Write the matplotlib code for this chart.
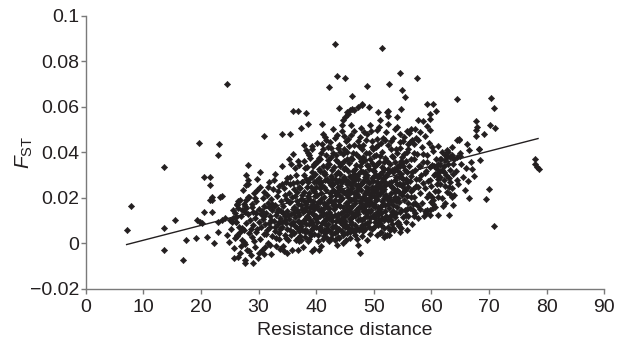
import matplotlib
matplotlib.use('Agg')
import matplotlib.pyplot as plt
import numpy as np

plt.rcParams['font.family'] = ['Liberation Sans', 'DejaVu Sans']
plt.rcParams['mathtext.fontset'] = 'custom'
plt.rcParams['mathtext.rm'] = 'Liberation Sans'
plt.rcParams['mathtext.it'] = 'Liberation Sans:italic'

# scattered points (resistance distance, F_ST)
left_pts = [(7.1, 0.0057), (7.9, 0.0163), (13.6, 0.0337), (13.6, 0.0065), (13.6, -0.0029),
            (15.5, 0.0101), (16.8, -0.0072), (17.4, 0.0013), (19.1, 0.0025), (19.6, 0.0439),
            (19.4, 0.0101), (19.8, 0.0095), (20.1, 0.0089), (20.5, 0.029), (21.6, 0.029),
            (21.6, 0.0254), (21.6, 0.0189), (22.0, 0.0201), (21.9, 0.0135), (20.5, 0.0135),
            (21.1, 0.0029), (22.3, -0.0001), (23.1, 0.0434), (23.0, 0.0387), (23.0, 0.0095),
            (23.0, 0.0047), (24.5, 0.0699), (23.3, 0.0204), (23.7, 0.0208), (21.9, 0.0189),
            (23.6, 0.0101), (24.2, 0.0109), (25.1, 0.0101), (25.4, 0.0094), (26.1, 0.0094),
            (24.6, 0.0035), (24.8, 0.0006), (25.9, 0.0021), (26.2, 0.0035), (26.8, 0.005),
            (27.4, 0.0057), (27.1, 0.0013), (27.7, -0.0004), (25.7, -0.0063), (26.5, -0.006),
            (27.7, -0.0075), (26.2, 0.0174), (26.8, 0.0189), (27.4, 0.0174), (27.9, 0.0189),
            (26.5, 0.0153), (27.1, 0.0145), (27.9, 0.0153), (27.7, 0.0138), (28.2, 0.0204),
            (28.1, 0.0262), (27.9, 0.0299), (28.2, 0.0343), (28.1, 0.0277), (25.9, 0.0131),
            (26.1, 0.0116), (29.1, -0.0088), (27.7, -0.0086), (30.9, -0.0047), (28.4, -0.0035),
            (34.4, -0.0035), (39.3, -0.0035), (36.9, -0.003)]

upper_pts = [(43.2, 0.0875), (43.6, 0.0735), (45.0, 0.0728), (42.2, 0.0687), (46.2, 0.0649),
             (43.9, 0.0596), (35.9, 0.0583), (36.9, 0.058), (38.3, 0.0573), (41.0, 0.0526),
             (37.4, 0.0508), (38.5, 0.0524), (30.9, 0.0472), (34.0, 0.0482), (35.5, 0.0478),
             (45.0, 0.0555), (45.6, 0.057), (45.9, 0.0585), (44.7, 0.0541), (51.4, 0.0858),
             (48.8, 0.069), (52.7, 0.0699), (54.5, 0.0749), (57.5, 0.0724), (54.9, 0.0673),
             (55.4, 0.0643), (47.9, 0.0614), (49.1, 0.0599), (52.3, 0.0577), (54.8, 0.0592),
             (59.3, 0.0611), (60.2, 0.0614), (60.8, 0.058), (59.8, 0.0567), (59.8, 0.0548),
             (64.5, 0.0632), (70.4, 0.0637), (70.8, 0.0595), (54.1, 0.0555), (52.4, 0.058),
             (52.4, 0.0558), (57.6, 0.0541), (58.5, 0.0538), (59.2, 0.0516), (59.8, 0.0497),
             (67.7, 0.0538), (67.9, 0.0511), (67.8, 0.0497), (67.7, 0.047), (69.2, 0.0482),
             (70.1, 0.0519), (71.1, 0.0507), (64.5, 0.0453), (64.8, 0.0456), (66.1, 0.0435),
             (68.3, 0.0415), (56.5, 0.0504), (57.2, 0.0501), (58.0, 0.0489), (56.6, 0.0453),
             (56.0, 0.0438), (45.3, 0.0577), (46.2, 0.0588), (46.5, 0.0585), (47.3, 0.0599),
             (47.9, 0.0607), (50.8, 0.0577), (51.1, 0.0541)]

right_pts = [(77.9, 0.0372), (78.0, 0.0347), (78.3, 0.0335), (78.6, 0.0328), (70.8, 0.0076),
             (70.0, 0.024), (69.4, 0.0193), (66.6, 0.0199), (68.5, 0.0365), (68.3, 0.0416),
             (67.3, 0.0296), (67.0, 0.0324), (64.5, 0.0277), (63.2, 0.0269), (63.0, 0.0247),
             (62.7, 0.0225), (63.5, 0.0204), (63.9, 0.0211), (62.0, 0.0163), (63.0, 0.0123),
             (61.2, 0.0123), (63.8, 0.0167), (60.2, 0.0174), (60.1, 0.0204), (60.3, 0.0192),
             (58.0, 0.0152), (58.9, 0.0141), (59.8, 0.0145), (56.9, 0.0119), (55.7, 0.0057),
             (54.6, 0.005), (53.4, 0.0065), (54.0, 0.0087), (52.3, 0.0035), (51.7, 0.0028),
             (65.0, 0.0382), (63.5, 0.0387), (62.4, 0.0387), (61.5, 0.0372), (61.2, 0.035),
             (60.9, 0.0328), (61.8, 0.0321), (60.6, 0.0306), (61.5, 0.0262), (62.1, 0.0277),
             (61.2, 0.0284), (64.7, 0.0453), (63.5, 0.0423), (62.9, 0.0401), (62.7, 0.0379),
             (64.4, 0.0379), (63.2, 0.0379), (62.4, 0.0365), (63.8, 0.035), (61.1, 0.0204),
             (59.2, 0.0145), (54.3, 0.0084), (52.8, 0.006), (52.0, 0.0035), (51.1, 0.0043),
             (48.8, 0.0013), (47.3, -0.0009), (47.6, -0.0045), (43.6, -0.0009), (43.3, 0.0013),
             (44.7, 0.0043), (45.0, 0.0072)]

# dense cloud, read band by band
core_25_34 = [(25.2, 0.0062), (25.5, 0.0148), (25.8, -0.0021), (26.0, 0.0095), (26.3, 0.0031),
              (26.4, 0.0187), (26.7, -0.0045), (26.9, 0.0118), (27.1, 0.0066), (27.3, 0.0233),
              (27.5, 0.0004), (27.6, 0.0162), (27.8, 0.0087), (28.0, -0.0031), (28.1, 0.0129),
              (28.3, 0.0045), (28.4, 0.0201), (25.6, 0.0112), (26.6, 0.0072), (27.0, -0.0012),
              (27.9, 0.0254), (26.2, 0.0168),
              (28.5, 0.0101), (28.6, -0.0052), (28.8, 0.0174), (28.9, 0.0026), (29.0, 0.0138),
              (29.1, 0.0078), (29.2, 0.0221), (29.3, -0.0015), (29.4, 0.0112), (29.5, 0.0049),
              (29.6, 0.0186), (29.7, 0.0281), (29.8, 0.0063), (29.9, -0.0064), (30.0, 0.0152),
              (30.1, 0.0095), (30.2, 0.0019), (30.3, 0.0245), (30.4, 0.0127), (30.5, 0.0071),
              (30.6, -0.0028), (30.7, 0.0198), (30.8, 0.0108), (30.9, 0.0042), (31.0, 0.0163),
              (28.7, 0.0061), (29.2, 0.0009), (29.8, 0.0235), (30.3, 0.0311), (30.6, 0.0141),
              (28.9, 0.0158), (29.5, 0.0131), (30.9, 0.0225), (30.1, -0.0041), (29.4, 0.0199),
              (31.1, 0.0085), (31.2, -0.0018), (31.3, 0.0134), (31.4, 0.0212), (31.5, 0.0056),
              (31.6, 0.0177), (31.7, 0.0003), (31.8, 0.0268), (31.9, 0.0119), (32.0, 0.0071),
              (32.1, 0.0193), (32.2, -0.0049), (32.3, 0.0145), (32.4, 0.0031), (32.5, 0.0237),
              (32.6, 0.0099), (32.7, 0.0164), (32.8, 0.0052), (32.9, 0.0305), (33.0, 0.0126),
              (33.1, -0.0012), (33.2, 0.0206), (33.3, 0.0083), (33.4, 0.0152), (33.5, 0.0018),
              (33.6, 0.0251), (33.7, 0.0112), (33.8, 0.0063), (33.9, 0.0187), (34.0, 0.0339),
              (31.3, 0.0041), (31.8, 0.0158), (32.2, 0.0104), (32.6, 0.0279), (33.0, 0.0022),
              (33.4, 0.0228), (33.8, -0.0025), (31.6, 0.0247), (32.4, 0.0171), (33.2, 0.0137),
              (33.6, 0.0095), (31.0, 0.0118), (32.9, 0.0069), (33.9, 0.0143), (32.0, -0.0006)]

core_34_43 = [(34.1, 0.0072), (34.2, 0.0165), (34.3, -0.0011), (34.4, 0.0241), (34.5, 0.0118),
              (34.6, 0.0038), (34.7, 0.0196), (34.8, 0.0089), (34.9, 0.0287), (35.0, 0.0141),
              (35.1, 0.0015), (35.2, 0.0222), (35.3, 0.0105), (35.4, 0.0058), (35.5, 0.0179),
              (35.6, 0.0346), (35.7, 0.0127), (35.8, -0.0032), (35.9, 0.0263), (36.0, 0.0091),
              (36.1, 0.0159), (36.2, 0.0044), (36.3, 0.0208), (36.4, 0.0116), (36.5, 0.0301),
              (36.6, 0.0068), (36.7, 0.0185), (36.8, 0.0022), (36.9, 0.0137), (37.0, 0.0249),
              (34.3, 0.0134), (34.7, 0.0271), (35.0, 0.0062), (35.3, 0.0182), (35.6, 0.0084),
              (35.9, 0.0151), (36.2, 0.0238), (36.5, 0.0012), (36.8, 0.0098), (34.5, 0.0212),
              (35.2, 0.0369), (35.8, 0.0205), (36.3, 0.0329), (36.9, 0.0172), (34.9, -0.0041),
              (35.5, 0.0261), (36.0, 0.0394), (36.6, 0.0148), (34.1, 0.0258), (35.7, 0.0035),
              (36.4, 0.0075), (37.0, 0.0053), (34.6, 0.0101), (35.4, 0.0293), (36.7, 0.0271),
              (37.1, 0.0124), (37.2, 0.0031), (37.3, 0.0196), (37.4, 0.0077), (37.5, 0.0268),
              (37.6, 0.0149), (37.7, -0.0018), (37.8, 0.0225), (37.9, 0.0102), (38.0, 0.0332),
              (38.1, 0.0057), (38.2, 0.0174), (38.3, 0.0281), (38.4, 0.0121), (38.5, 0.0009),
              (38.6, 0.0209), (38.7, 0.0086), (38.8, 0.0387), (38.9, 0.0156), (39.0, 0.0043),
              (39.1, 0.0249), (39.2, 0.0133), (39.3, 0.0311), (39.4, 0.0067), (39.5, 0.0187),
              (39.6, -0.0026), (39.7, 0.0228), (39.8, 0.0109), (39.9, 0.0356), (40.0, 0.0162),
              (37.2, 0.0244), (37.5, 0.0058), (37.8, 0.0362), (38.1, 0.0147), (38.4, 0.0245),
              (38.7, 0.0018), (39.0, 0.0192), (39.3, 0.0094), (39.6, 0.0267), (39.9, 0.0071),
              (37.4, 0.0168), (37.9, 0.0298), (38.3, 0.0083), (38.8, 0.0135), (39.2, 0.0427),
              (39.7, 0.0152), (37.1, 0.0095), (37.6, 0.0211), (38.2, 0.0409), (38.6, 0.0113),
              (39.1, 0.0035), (39.5, 0.0339), (39.8, 0.0206), (37.3, 0.0012), (37.7, 0.0139),
              (38.5, 0.0189), (39.4, 0.0171), (38.0, 0.0048), (38.9, 0.0285), (39.9, 0.0118),
              (37.0, 0.0342), (38.4, 0.0336), (39.0, 0.0376), (37.6, 0.0271), (39.7, 0.0042),
              (40.1, 0.0091), (40.2, 0.0214), (40.3, 0.0035), (40.4, 0.0287), (40.5, 0.0146),
              (40.6, 0.0368), (40.7, 0.0072), (40.8, 0.0193), (40.9, -0.0012), (41.0, 0.0251),
              (41.1, 0.0124), (41.2, 0.0412), (41.3, 0.0058), (41.4, 0.0177), (41.5, 0.0305),
              (41.6, 0.0101), (41.7, 0.0232), (41.8, 0.0021), (41.9, 0.0159), (42.0, 0.0349),
              (42.1, 0.0085), (42.2, 0.0271), (42.3, 0.0136), (42.4, 0.0445), (42.5, 0.0047),
              (42.6, 0.0208), (42.7, 0.0114), (42.8, 0.0322), (42.9, 0.0168), (43.0, 0.0069),
              (40.2, 0.0112), (40.5, 0.0263), (40.8, 0.0054), (41.1, 0.0338), (41.4, 0.0096),
              (41.7, 0.0389), (42.0, 0.0183), (42.3, 0.0008), (42.6, 0.0297), (42.9, 0.0232),
              (40.3, 0.0181), (40.7, 0.0319), (41.0, 0.0137), (41.3, 0.0246), (41.6, 0.0465),
              (41.9, 0.0063), (42.2, 0.0154), (42.5, 0.0378), (42.8, 0.0098), (40.0, 0.0275),
              (40.4, 0.0067), (40.9, 0.0222), (41.2, 0.0019), (41.5, 0.0166), (41.8, 0.0284),
              (42.1, 0.0421), (42.4, 0.0129), (42.7, 0.0255), (43.0, 0.0395), (40.6, 0.0119),
              (41.0, 0.0434), (41.4, 0.0315), (41.9, 0.0109), (42.3, 0.0348), (42.8, 0.0039),
              (40.1, 0.0356), (40.8, 0.0152), (41.7, 0.0079), (42.6, 0.0187), (40.4, -0.0028)]

core_43_52 = [(43.1, 0.0152), (43.2, 0.0281), (43.3, 0.0074), (43.4, 0.0213), (43.5, 0.0364),
              (43.6, 0.0118), (43.7, 0.0029), (43.8, 0.0247), (43.9, 0.0169), (44.0, 0.0432),
              (44.1, 0.0091), (44.2, 0.0305), (44.3, 0.0196), (44.4, 0.0054), (44.5, 0.0268),
              (44.6, 0.0137), (44.7, 0.0391), (44.8, 0.0225), (44.9, 0.0081), (45.0, 0.0332),
              (45.1, 0.0176), (45.2, 0.0013), (45.3, 0.0259), (45.4, 0.0122), (45.5, 0.0458),
              (45.6, 0.0201), (45.7, 0.0063), (45.8, 0.0297), (45.9, 0.0155), (46.0, 0.0375),
              (43.1, 0.0336), (43.4, 0.0097), (43.7, 0.0418), (44.0, 0.0184), (44.3, 0.0349),
              (44.6, 0.0035), (44.9, 0.0291), (45.2, 0.0144), (45.5, 0.0233), (45.8, 0.0105),
              (43.3, 0.0192), (43.6, 0.0475), (43.9, 0.0061), (44.2, 0.0239), (44.5, 0.0109),
              (44.8, 0.0412), (45.1, 0.0273), (45.4, 0.0046), (45.7, 0.0354), (46.0, 0.0188),
              (43.2, 0.0045), (43.5, 0.0163), (43.8, 0.0311), (44.1, 0.0252), (44.4, 0.0491),
              (44.7, 0.0158), (45.0, 0.0097), (45.3, 0.0401), (45.6, 0.0318), (45.9, 0.0227),
              (43.0, 0.0261), (43.8, 0.0129), (44.6, 0.0284), (45.4, 0.0212), (44.0, 0.0022),
              (44.9, 0.0362), (45.7, 0.0142), (43.4, 0.0388), (44.3, 0.0131), (45.1, 0.0449),
              (45.8, 0.0024), (43.6, 0.0268), (44.5, 0.0197), (45.3, 0.0071), (46.0, 0.0289),
              (46.1, 0.0095), (46.2, 0.0243), (46.3, 0.0162), (46.4, 0.0397), (46.5, 0.0048),
              (46.6, 0.0276), (46.7, 0.0189), (46.8, 0.0121), (46.9, 0.0344), (47.0, 0.0218),
              (47.1, 0.0067), (47.2, 0.0302), (47.3, 0.0151), (47.4, 0.0427), (47.5, 0.0236),
              (47.6, 0.0108), (47.7, 0.0319), (47.8, 0.0178), (47.9, 0.0031), (48.0, 0.0265),
              (48.1, 0.0141), (48.2, 0.0381), (48.3, 0.0205), (48.4, 0.0086), (48.5, 0.0293),
              (48.6, 0.0167), (48.7, 0.0452), (48.8, 0.0229), (48.9, 0.0118), (49.0, 0.0338),
              (46.2, 0.0368), (46.5, 0.0198), (46.8, 0.0283), (47.1, 0.0135), (47.4, 0.0251),
              (47.7, 0.0073), (48.0, 0.0356), (48.3, 0.0112), (48.6, 0.0248), (48.9, 0.0192),
              (46.3, 0.0061), (46.6, 0.0431), (46.9, 0.0145), (47.2, 0.0208), (47.5, 0.0381),
              (47.8, 0.0262), (48.1, 0.0055), (48.4, 0.0314), (48.7, 0.0171), (49.0, 0.0239),
              (46.1, 0.0227), (46.4, 0.0128), (46.7, 0.0326), (47.0, 0.0017), (47.3, 0.0282),
              (47.6, 0.0186), (47.9, 0.0412), (48.2, 0.0155), (48.5, 0.0222), (48.8, 0.0088),
              (46.0, 0.0474), (46.9, 0.0255), (47.7, 0.0361), (48.6, 0.0396), (47.2, 0.0102),
              (48.1, 0.0274), (48.9, 0.0301), (46.5, 0.0305), (47.4, 0.0161), (48.3, 0.0487),
              (46.8, 0.0079), (47.6, 0.0466), (48.4, 0.0216), (49.0, 0.0143), (47.9, 0.0197),
              (49.1, 0.0266), (49.2, 0.0093), (49.3, 0.0198), (49.4, 0.0371), (49.5, 0.0145),
              (49.6, 0.0287), (49.7, 0.0061), (49.8, 0.0234), (49.9, 0.0413), (50.0, 0.0172),
              (50.1, 0.0318), (50.2, 0.0109), (50.3, 0.0252), (50.4, 0.0189), (50.5, 0.0456),
              (50.6, 0.0035), (50.7, 0.0293), (50.8, 0.0157), (50.9, 0.0359), (51.0, 0.0218),
              (51.1, 0.0087), (51.2, 0.0271), (51.3, 0.0134), (51.4, 0.0402), (51.5, 0.0244),
              (51.6, 0.0171), (51.7, 0.0328), (51.8, 0.0065), (51.9, 0.0209), (52.0, 0.0375),
              (49.2, 0.0325), (49.5, 0.0221), (49.8, 0.0118), (50.1, 0.0207), (50.4, 0.0388),
              (50.7, 0.0126), (51.0, 0.0306), (51.3, 0.0226), (51.6, 0.0461), (51.9, 0.0142),
              (49.3, 0.0041), (49.6, 0.0447), (49.9, 0.0275), (50.2, 0.0339), (50.5, 0.0239),
              (50.8, 0.0082), (51.1, 0.0383), (51.4, 0.0187), (51.7, 0.0103), (52.0, 0.0255),
              (49.0, 0.0189), (49.4, 0.0136), (49.7, 0.0352), (50.0, 0.0069), (50.3, 0.0424),
              (50.6, 0.0193), (50.9, 0.0262), (51.2, 0.0048), (51.5, 0.0315), (51.8, 0.0237),
              (49.1, 0.0398), (50.0, 0.0296), (50.8, 0.0432), (51.6, 0.0288), (49.8, 0.0169),
              (50.6, 0.0347), (51.4, 0.0112), (52.0, 0.0168), (49.5, 0.0492), (51.0, 0.0152)]

core_52_68 = [(52.1, 0.0119), (52.2, 0.0298), (52.3, 0.0193), (52.4, 0.0431), (52.5, 0.0072),
              (52.6, 0.0264), (52.7, 0.0156), (52.8, 0.0349), (52.9, 0.0221), (53.0, 0.0104),
              (53.1, 0.0382), (53.2, 0.0245), (53.3, 0.0168), (53.4, 0.0311), (53.5, 0.0056),
              (53.6, 0.0279), (53.7, 0.0201), (53.8, 0.0413), (53.9, 0.0132), (54.0, 0.0336),
              (54.1, 0.0234), (54.2, 0.0091), (54.3, 0.0291), (54.4, 0.0181), (54.5, 0.0446),
              (54.6, 0.0258), (54.7, 0.0147), (54.8, 0.0362), (54.9, 0.0212), (55.0, 0.0113),
              (52.3, 0.0363), (52.6, 0.0037), (52.9, 0.0412), (53.2, 0.0139), (53.5, 0.0327),
              (53.8, 0.0186), (54.1, 0.0395), (54.4, 0.0076), (54.7, 0.0303), (55.0, 0.0247),
              (52.2, 0.0214), (52.8, 0.0121), (53.4, 0.0462), (54.0, 0.0159), (54.6, 0.0478),
              (52.5, 0.0328), (53.1, 0.0084), (53.7, 0.0356), (54.3, 0.0224), (54.9, 0.0381),
              (52.0, 0.0452), (53.0, 0.0271), (54.2, 0.0317), (53.6, 0.0117), (54.8, 0.0066),
              (55.2, 0.0189), (55.4, 0.0321), (55.6, 0.0126), (55.8, 0.0268), (56.0, 0.0414),
              (56.2, 0.0155), (56.4, 0.0296), (56.6, 0.0083), (56.8, 0.0237), (57.0, 0.0369),
              (57.2, 0.0176), (57.4, 0.0284), (57.6, 0.0111), (57.8, 0.0341), (58.0, 0.0221),
              (55.3, 0.0392), (55.7, 0.0208), (56.1, 0.0338), (56.5, 0.0204), (56.9, 0.0436),
              (57.3, 0.0251), (57.7, 0.0163), (55.1, 0.0262), (55.5, 0.0094), (55.9, 0.0176),
              (56.3, 0.0443), (56.7, 0.0312), (57.1, 0.0131), (57.5, 0.0392), (57.9, 0.0282),
              (55.6, 0.0361), (56.4, 0.0229), (57.2, 0.0322), (55.0, 0.0447), (56.0, 0.0118),
              (57.0, 0.0205), (55.8, 0.0491), (56.8, 0.0145), (57.6, 0.0247), (55.4, 0.0145),
              (58.2, 0.0301), (58.4, 0.0178), (58.6, 0.0356), (58.8, 0.0243), (59.0, 0.0132),
              (59.2, 0.0389), (59.4, 0.0272), (59.6, 0.0215), (59.8, 0.0334), (60.0, 0.0251),
              (60.2, 0.0155), (60.4, 0.0298), (60.6, 0.0228), (60.8, 0.0371), (61.0, 0.0262),
              (58.3, 0.0422), (58.7, 0.0121), (59.1, 0.0318), (59.5, 0.0441), (59.9, 0.0183),
              (60.3, 0.0406), (60.7, 0.0161), (58.5, 0.0263), (59.3, 0.0205), (60.1, 0.0345),
              (60.9, 0.0301), (58.9, 0.0469), (59.7, 0.0123),
              (61.2, 0.0231), (61.5, 0.0342), (61.8, 0.0198), (62.1, 0.0312), (62.4, 0.0252),
              (62.7, 0.0411), (63.0, 0.0285), (63.3, 0.0322), (63.6, 0.0243), (63.9, 0.0368),
              (61.4, 0.0289), (61.9, 0.0401), (62.3, 0.0176), (62.8, 0.0346), (63.2, 0.0215),
              (63.7, 0.0302), (61.1, 0.0428), (62.5, 0.0299),
              (64.2, 0.0318), (64.6, 0.0261), (65.1, 0.0346), (65.5, 0.0292), (66.0, 0.0331),
              (66.4, 0.0274), (66.9, 0.0358), (64.9, 0.0397), (65.8, 0.0232), (66.6, 0.0409)]

# the darkest middle of the cloud
core_dense = [(38.2, 0.0158), (38.6, 0.0271), (39.0, 0.0102), (39.4, 0.0232), (39.8, 0.0305),
              (40.2, 0.0165), (40.6, 0.0241), (41.0, 0.0088), (41.4, 0.0205), (41.8, 0.0336),
              (42.2, 0.0112), (42.6, 0.0255), (43.0, 0.0178), (43.4, 0.0303), (43.8, 0.0064),
              (44.2, 0.0163), (44.6, 0.0226), (45.0, 0.0281), (45.4, 0.0169), (45.8, 0.0258),
              (46.2, 0.0134), (46.6, 0.0221), (47.0, 0.0294), (47.4, 0.0059), (47.8, 0.0232),
              (48.2, 0.0311), (48.6, 0.0134), (49.0, 0.0274), (49.4, 0.0211), (49.8, 0.0321),
              (50.2, 0.0158), (50.6, 0.0271), (51.0, 0.0245), (51.4, 0.0336), (51.8, 0.0198),
              (52.2, 0.0262), (52.6, 0.0311), (53.0, 0.0185), (53.4, 0.0243), (53.8, 0.0291),
              (54.2, 0.0199), (54.6, 0.0339), (55.0, 0.0281), (55.4, 0.0234), (55.8, 0.0315),
              (38.4, 0.0053), (38.8, 0.0222), (39.2, 0.0289), (39.6, 0.0124), (40.0, 0.0212),
              (40.4, 0.0324), (40.8, 0.0271), (41.2, 0.0149), (41.6, 0.0279), (42.0, 0.0058),
              (42.4, 0.0221), (42.8, 0.0281), (43.2, 0.0122), (43.6, 0.0227), (44.0, 0.0277),
              (44.4, 0.0101), (44.8, 0.0328), (45.2, 0.0082), (45.6, 0.0273), (46.0, 0.0111),
              (46.4, 0.0318), (46.8, 0.0175), (47.2, 0.0254), (47.6, 0.0341), (48.0, 0.0102),
              (48.4, 0.0189), (48.8, 0.0342), (49.2, 0.0168), (49.6, 0.0245), (50.0, 0.0122),
              (50.4, 0.0298), (50.8, 0.0212), (51.2, 0.0163), (51.6, 0.0229), (52.0, 0.0291),
              (52.4, 0.0172), (52.8, 0.0254), (53.2, 0.0322), (53.6, 0.0226), (54.0, 0.0262),
              (54.4, 0.0342), (54.8, 0.0289), (55.2, 0.0228), (55.6, 0.0282), (56.0, 0.0248),
              (39.1, 0.0162), (39.9, 0.0246), (40.7, 0.0181), (41.5, 0.0046), (42.3, 0.0188),
              (43.1, 0.0231), (43.9, 0.0213), (44.7, 0.0081), (45.5, 0.0183), (46.3, 0.0266),
              (47.1, 0.0235), (47.9, 0.0158), (48.7, 0.0292), (49.5, 0.0179), (50.3, 0.0226),
              (51.1, 0.0302), (51.9, 0.0271), (52.7, 0.0203), (53.5, 0.0195), (54.3, 0.0258),
              (55.1, 0.0339), (56.2, 0.0272), (44.1, 0.0339), (46.7, 0.0037), (48.5, 0.0063),
              (50.9, 0.0104), (53.3, 0.0143), (41.3, 0.0302), (37.8, 0.0184), (36.6, 0.0225)]

# upper and lower rims of the cloud
core_upper = [(38.5, 0.0395), (39.3, 0.0412), (40.1, 0.0441), (40.9, 0.0395), (41.7, 0.0452),
              (42.5, 0.0418), (43.3, 0.0462), (44.1, 0.0401), (44.9, 0.0472), (45.7, 0.0428),
              (46.5, 0.0493), (47.3, 0.0447), (48.1, 0.0431), (48.9, 0.0478), (49.7, 0.0423),
              (50.5, 0.0497), (51.3, 0.0441), (52.1, 0.0489), (52.9, 0.0448), (53.7, 0.0503),
              (54.5, 0.0419), (55.3, 0.0468), (56.1, 0.0485), (56.9, 0.0398), (57.7, 0.0452),
              (58.5, 0.0393), (59.3, 0.0358), (60.1, 0.0421), (40.5, 0.0376), (42.1, 0.0365),
              (43.7, 0.0356), (45.3, 0.0372), (46.9, 0.0392), (48.5, 0.0365), (50.1, 0.0382),
              (51.7, 0.0358), (53.3, 0.0379), (54.9, 0.0352), (56.5, 0.0372), (58.1, 0.0341),
              (39.7, 0.0348), (41.1, 0.0481), (42.9, 0.0502), (44.5, 0.0518), (46.1, 0.0519),
              (47.7, 0.0508), (49.3, 0.0521), (50.9, 0.0512), (52.5, 0.0523), (54.1, 0.0512),
              (55.7, 0.0401), (57.3, 0.0463), (37.9, 0.0432), (36.8, 0.0362), (59.7, 0.0278),
              (60.5, 0.0338), (61.3, 0.0312), (61.7, 0.0371), (62.2, 0.0341), (58.8, 0.0309)]

core_lower = [(33.5, 0.0045), (34.8, 0.0021), (35.9, 0.0048), (37.0, 0.0011), (38.1, 0.0029),
              (39.2, 0.0063), (40.3, 0.0011), (41.4, 0.0033), (42.5, 0.0021), (43.6, 0.0052),
              (44.7, 0.0002), (45.8, 0.0049), (46.9, 0.0062), (48.0, 0.0081), (49.1, 0.0072),
              (50.2, 0.0091), (51.3, 0.0079), (52.4, 0.0104), (53.5, 0.0128), (54.6, 0.0136),
              (55.7, 0.0151), (56.8, 0.0171), (31.8, 0.0089), (32.9, 0.0166), (34.0, 0.0094),
              (35.1, 0.0124), (36.2, 0.0132), (37.3, 0.0088), (38.3, 0.0112), (39.5, 0.0081),
              (40.6, 0.0062), (41.7, 0.0128), (42.8, 0.0071), (43.9, 0.0102), (45.0, 0.0121),
              (46.1, 0.0083), (47.2, 0.0128), (48.3, 0.0151), (49.4, 0.0111), (50.5, 0.0137)]

# fitted trend line, end points
trend_x = [7.1, 78.5]
trend_y = [-0.0006, 0.0460]

x_ticks = [0, 10, 20, 30, 40, 50, 60, 70, 80, 90]
y_ticks = [-0.02, 0, 0.02, 0.04, 0.06, 0.08, 0.1]
y_labels = ['\u22120.02', '0', '0.02', '0.04', '0.06', '0.08', '0.1']

ink = '#231f20'
axis_grey = '#7a7a7a'

all_pts = (left_pts + upper_pts + right_pts + core_25_34 + core_34_43 + core_43_52
           + core_52_68 + core_dense + core_upper + core_lower)
px = np.array([p[0] for p in all_pts])
py = np.array([p[1] for p in all_pts])

fig = plt.figure(figsize=(6.27, 3.41), dpi=100)
ax = fig.add_axes([0.1367, 0.1534, 0.8271, 0.8006])

ax.plot(px, py, linestyle='none', marker='D', markersize=3.2,
        markerfacecolor=ink, markeredgecolor=ink, markeredgewidth=0.4)
ax.plot(trend_x, trend_y, color=ink, linewidth=1.0)

ax.set_xlim(0, 90)
ax.set_ylim(-0.02, 0.1)
ax.set_xticks(x_ticks)
ax.set_yticks(y_ticks)
ax.set_yticklabels(y_labels)

for side in ['top', 'right']:
    ax.spines[side].set_visible(False)
for side in ['left', 'bottom']:
    ax.spines[side].set_color(axis_grey)
    ax.spines[side].set_linewidth(1.0)

ax.tick_params(axis='both', direction='out', length=3.5, width=1.0, color=axis_grey,
               labelsize=14, labelcolor=ink)
ax.tick_params(axis='x', pad=4)
ax.tick_params(axis='y', pad=1)

ax.set_xlabel('Resistance distance', fontsize=14, color=ink, labelpad=4)
ax.set_ylabel(r'$F_{\mathrm{ST}}$', fontsize=15, color=ink)
ax.yaxis.set_label_coords(-0.097, 0.5)

fig.savefig('out.png', dpi=100)
